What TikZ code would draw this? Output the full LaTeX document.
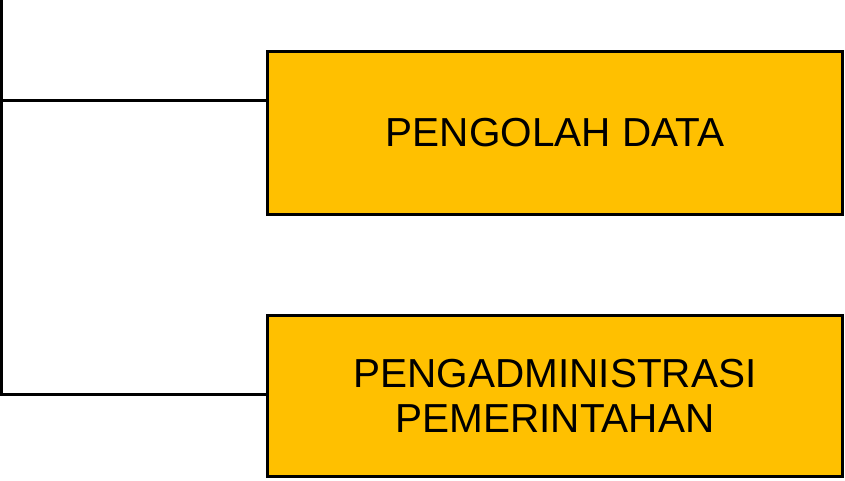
\documentclass[tikz,border=0pt]{standalone}
\usepackage{fontspec}
\setmainfont{Liberation Sans}
\definecolor{boxfill}{HTML}{FFC000}
\begin{document}
\begin{tikzpicture}[x=1pt,y=-1pt,
  unitbox/.style={draw=black, line width=3pt, fill=boxfill, rectangle,
    minimum width=575pt, inner sep=0pt, align=center,
    font=\fontsize{40.5}{45}\selectfont},
  link/.style={draw=black, line width=3pt}]
\useasboundingbox (0,0) rectangle (845,481);
\node[unitbox, minimum height=163pt] (b1) at (555,133) {PENGOLAH DATA};
\node[unitbox, minimum height=161pt] (b2) at (555,396) {PENGADMINISTRASI\\PEMERINTAHAN};
\coordinate (top) at (1.5,-2);
\coordinate (j1) at (1.5,101);
\coordinate (j2) at (1.5,394.5);
\draw[link] (top) -- (j2) -- (j2 -| b2.west);
\draw[link] (j1) -- (j1 -| b1.west);
\end{tikzpicture}
\end{document}
